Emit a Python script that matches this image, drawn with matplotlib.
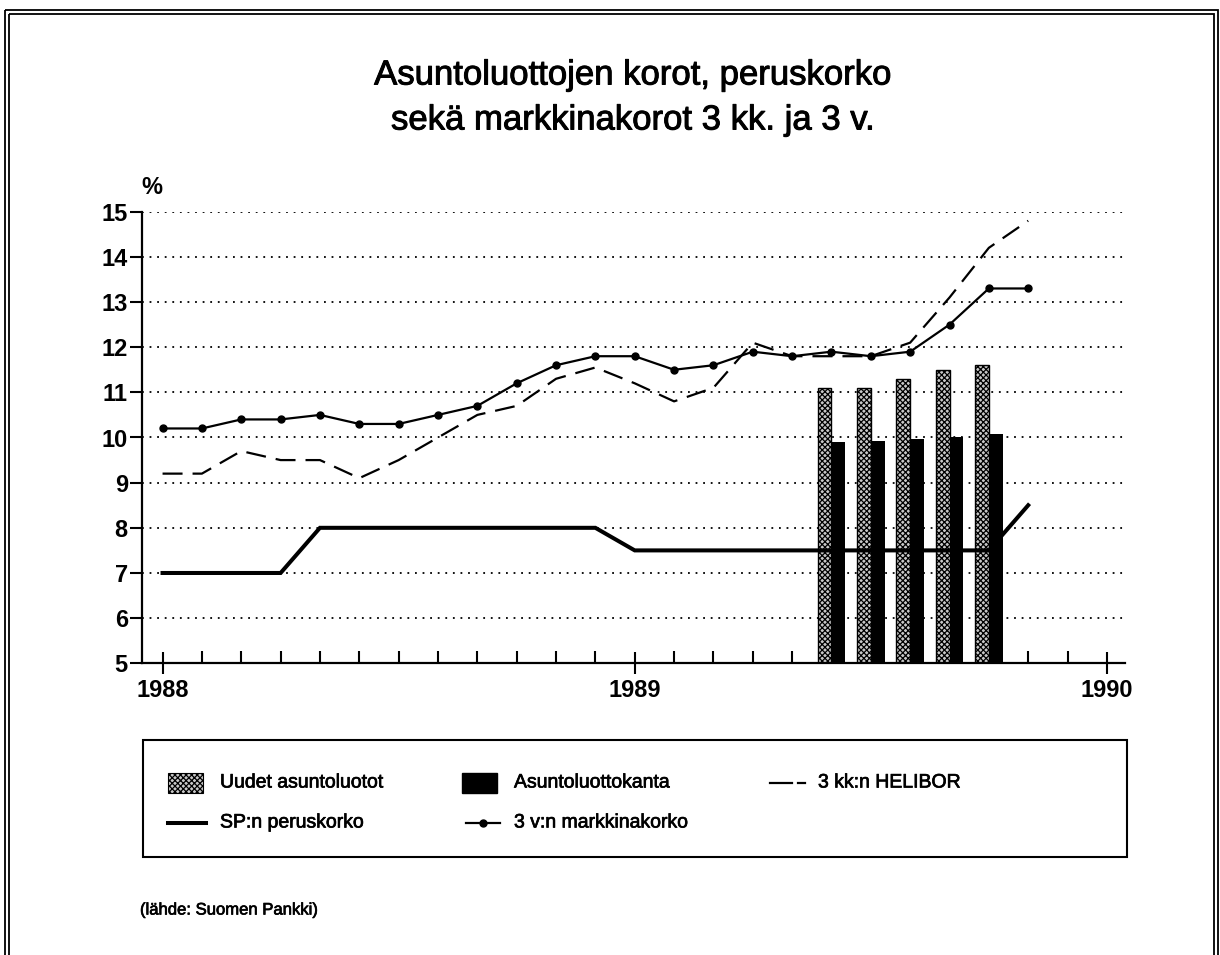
import numpy as np
import matplotlib.pyplot as plt
import matplotlib.patheffects as pe
from matplotlib.patches import Rectangle
from matplotlib.lines import Line2D
from matplotlib.ticker import FixedLocator

plt.rcParams['font.family'] = ['Liberation Sans', 'DejaVu Sans']
plt.rcParams['hatch.linewidth'] = 0.9

# months from Jan 1988 (0) .. Nov 1989 (22)
months = np.arange(23)
markkina_3v = [10.2, 10.2, 10.4, 10.4, 10.5, 10.3, 10.3, 10.5, 10.7, 11.2, 11.6, 11.8,
               11.8, 11.5, 11.6, 11.9, 11.8, 11.9, 11.8, 11.9, 12.5, 13.3, 13.3]
helibor_3kk = [9.2, 9.2, 9.7, 9.5, 9.5, 9.1, 9.5, 10.0, 10.5, 10.7, 11.3, 11.55,
               11.2, 10.8, 11.1, 12.1, 11.8, 11.8, 11.8, 12.1, 13.1, 14.2, 14.8]
peruskorko = [7, 7, 7, 7, 8, 8, 8, 8, 8, 8, 8, 8,
              7.5, 7.5, 7.5, 7.5, 7.5, 7.5, 7.5, 7.5, 7.5, 7.5, 8.5]

bar_months = np.array([17, 18, 19, 20, 21])
uudet = [11.1, 11.1, 11.3, 11.5, 11.6]
kanta = [9.9, 9.93, 9.97, 10.02, 10.08]

year_labels = ['1988', '1989', '1990']
y_ticks = [5, 6, 7, 8, 9, 10, 11, 12, 13, 14, 15]

W, H = 1220, 955
fig = plt.figure(figsize=(W / 100, H / 100), dpi=100)

# overlay in pixel coordinates for frame, titles, legend
ov = fig.add_axes([0, 0, 1, 1], zorder=0)
ov.set_xlim(0, W)
ov.set_ylim(H, 0)
ov.axis('off')

ax = fig.add_axes([141.7 / W, 1 - 663.3 / H, (1125 - 141.7) / W, (663.3 - 211.7) / H], zorder=1)
ax.patch.set_alpha(0)

# gridlines
for v in y_ticks[1:]:
    ax.axhline(v, color='black', lw=1.3, linestyle=(0, (1, 3.2)), zorder=1)

bw = 0.35
ax.bar(bar_months - bw / 2, uudet, width=bw, bottom=0, facecolor='#c8c8c8',
       edgecolor='black', hatch='xxxxxx', linewidth=1.0, zorder=2)
ax.bar(bar_months + bw / 2, kanta, width=bw, color='black', zorder=2)

ax.plot(months, peruskorko, color='black', lw=2.9, zorder=3, solid_joinstyle='miter')
ax.plot(months, helibor_3kk, color='black', lw=1.6, dashes=(9, 4.5), zorder=3)
ax.plot(months, markkina_3v, color='black', lw=1.6, marker='o', ms=5, zorder=4)

ax.set_xlim(-0.53, 24.46)
ax.set_ylim(5, 15)

for s in ['top', 'right']:
    ax.spines[s].set_visible(False)
for s in ['left', 'bottom']:
    ax.spines[s].set_linewidth(1.6)

ax.set_yticks(y_ticks)
ax.set_yticklabels([str(v) for v in y_ticks], fontsize=17, fontweight='bold')
ax.tick_params(axis='y', direction='out', length=9, width=1.5, pad=1)

ax.set_xticks([0, 12, 24])
ax.set_xticklabels(year_labels, fontsize=17, fontweight='bold')
ax.xaxis.set_minor_locator(FixedLocator([m for m in range(25) if m % 12 != 0]))
ax.tick_params(axis='x', which='major', direction='inout', length=16, width=1.5, pad=3)
ax.tick_params(axis='x', which='minor', direction='in', length=8.5, width=1.5)

# frame (double line)
ov.add_patch(Rectangle((5, 10), 1213, 980, fill=False, lw=1.3, ec='black'))
ov.add_patch(Rectangle((9, 14), 1205, 980, fill=False, lw=1.3, ec='black'))

thick = [pe.withStroke(linewidth=0.7, foreground='black')]
thin = [pe.withStroke(linewidth=0.5, foreground='black')]

# titles
ov.text(633, 75, 'Asuntoluottojen korot, peruskorko', fontsize=25, ha='center', va='center',
        path_effects=thick)
ov.text(633, 120, 'sekä markkinakorot 3 kk. ja 3 v.', fontsize=25, ha='center', va='center',
        path_effects=thick)
ov.text(152, 188, '%', fontsize=17, fontweight='bold', ha='center', va='center')

# legend
ov.add_patch(Rectangle((143, 740), 984, 117, fill=False, lw=1.5, ec='black'))
r1, r2 = 783, 823
lfs = 14
ov.add_patch(Rectangle((168, r1 - 10), 35, 20, facecolor='#c8c8c8', edgecolor='black',
                       hatch='xxxxxx', lw=0.8))
ov.text(220, r1, 'Uudet asuntoluotot', fontsize=lfs, va='center', path_effects=thin)
ov.add_patch(Rectangle((462, r1 - 10), 35, 20, facecolor='black', edgecolor='black'))
ov.text(514, r1, 'Asuntoluottokanta', fontsize=lfs, va='center', path_effects=thin)
ov.add_line(Line2D([770, 792], [r1, r1], color='black', lw=1.6))
ov.add_line(Line2D([798, 805], [r1, r1], color='black', lw=1.6))
ov.text(818, r1, '3 kk:n HELIBOR', fontsize=lfs, va='center', path_effects=thin)
ov.add_line(Line2D([168, 206], [r2, r2], color='black', lw=2.9))
ov.text(220, r2, 'SP:n peruskorko', fontsize=lfs, va='center', path_effects=thin)
ov.add_line(Line2D([466, 500], [r2, r2], color='black', lw=1.6))
ov.add_line(Line2D([483], [r2], color='black', marker='o', ms=5))
ov.text(514, r2, '3 v:n markkinakorko', fontsize=lfs, va='center', path_effects=thin)

ov.text(140, 910, '(lähde: Suomen Pankki)', fontsize=12, va='center', path_effects=thin)

fig.savefig('out.png', dpi=100)
